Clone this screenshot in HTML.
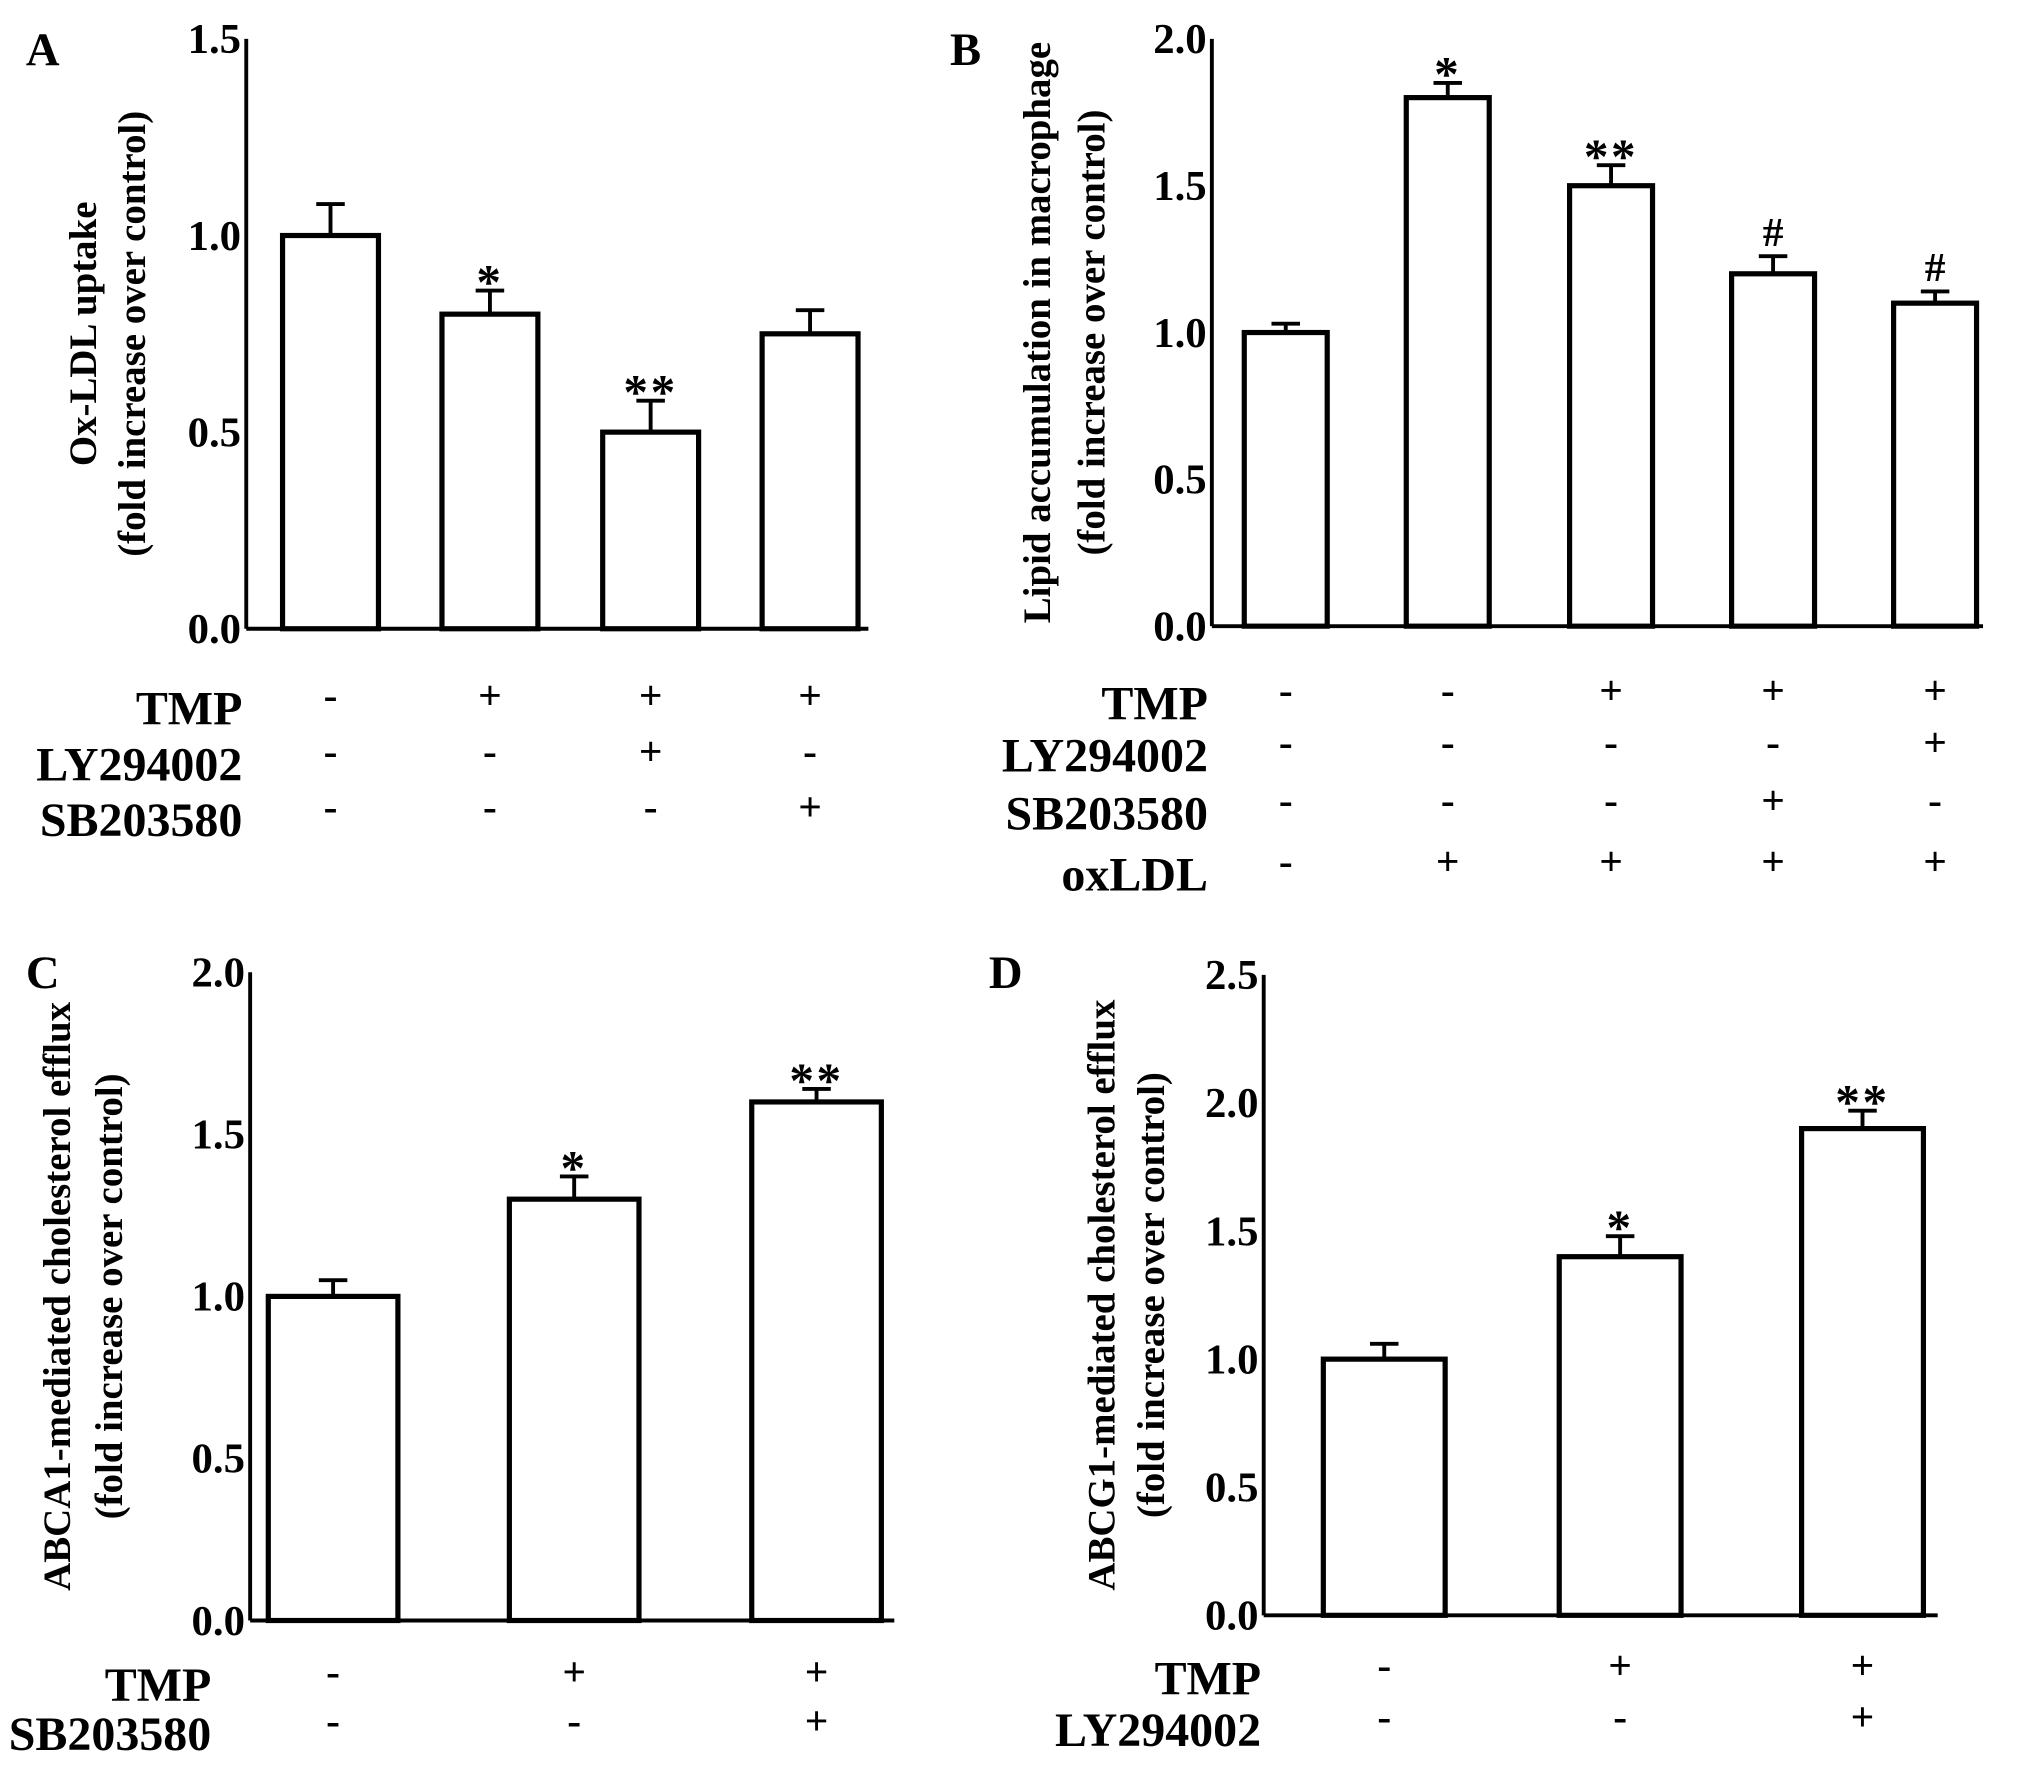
<!DOCTYPE html>
<html><head><meta charset="utf-8"><style>
html,body{margin:0;padding:0;background:#fff}
svg{display:block}
text{font-family:"Liberation Serif",serif;font-weight:bold;fill:#000}
</style></head><body>
<svg id="c" width="2031" height="1767" viewBox="0 0 1567 1363" preserveAspectRatio="none"></svg>
<script>
const aVals=[1.0,0.8,0.5,0.75], aErr=[0.08,0.06,0.08,0.06], aMarks=["","*","**",""];
const bVals=[1.0,1.8,1.5,1.2,1.1], bErr=[0.03,0.05,0.07,0.06,0.04], bMarks=["","*","**","#","#"];
const cVals=[1.0,1.3,1.6], cErr=[0.05,0.07,0.04], cMarks=["","*","**"];
const dVals=[1.0,1.4,1.9], dErr=[0.06,0.08,0.07], dMarks=["","*","**"];
const aTicks=["0.0","0.5","1.0","1.5"], bTicks=["0.0","0.5","1.0","1.5","2.0"], cTicks=["0.0","0.5","1.0","1.5","2.0"], dTicks=["0.0","0.5","1.0","1.5","2.0","2.5"];
const aRows=[["TMP","-","+","+","+"],["LY294002","-","-","+","-"],["SB203580","-","-","-","+"]];
const bRows=[["TMP","-","-","+","+","+"],["LY294002","-","-","-","-","+"],["SB203580","-","-","-","+","-"],["oxLDL","-","+","+","+","+"]];
const cRows=[["TMP","-","+","+"],["SB203580","-","-","+"]];
const dRows=[["TMP","-","+","+"],["LY294002","-","-","+"]];
const NS="http://www.w3.org/2000/svg", svg=document.getElementById('c');
function el(t,a,txt){const e=document.createElementNS(NS,t);for(const k in a)e.setAttribute(k,a[k]);if(txt!==undefined)e.textContent=txt;svg.appendChild(e);return e;}
function panel(p){
  const y=v=>p.y0-(v/p.max)*(p.y0-p.yTop);
  let e=el('text',{x:p.lx,y:p.ly,'font-size':36},p.letter);
  
  
  e=el('line',{x1:p.ax,y1:p.yTop,x2:p.ax,y2:p.y0,stroke:'#000','stroke-width':3});
  
  
  e=el('line',{x1:p.ax,y1:p.y0,x2:p.xEnd,y2:p.y0,stroke:'#000','stroke-width':3});
  
  
  p.ticks.forEach(t=>{
    e=el('text',{x:p.ax-4,y:y(parseFloat(t))+11,'font-size':33,'text-anchor':'end'},t);
    
    
  });
  const cy=(p.yTop+p.y0)/2;
  e=el('text',{x:p.t1,y:cy,'font-size':p.tf||30,'text-anchor':'middle',transform:`rotate(-90 ${p.t1} ${cy})`},p.title1);
  
  
  e=el('text',{x:p.t2,y:cy,'font-size':p.tf||30,'text-anchor':'middle',transform:`rotate(-90 ${p.t2} ${cy})`},'(fold increase over control)');
  
  
  p.vals.forEach((v,i)=>{
    const cx=p.cx[i], top=y(v), et=y(v+p.err[i]);
    e=el('line',{x1:cx,y1:top,x2:cx,y2:et,stroke:'#000','stroke-width':3});
    
    
    e=el('line',{x1:cx-11,y1:et,x2:cx+11,y2:et,stroke:'#000','stroke-width':3});
    
    
    e=el('rect',{x:cx-p.bw/2,y:top,width:p.bw,height:p.y0-top,fill:'#fff',stroke:'#000','stroke-width':4});
    
    
    if(p.marks[i]){
      const isHash=p.marks[i]==='#';
      e=el('text',{x:cx,y:et-(isHash?8:-6),'font-size':isHash?32:38,'text-anchor':'middle','font-weight':'normal','letter-spacing':isHash?0:2},p.marks[i]);
      
      
    }
  });
  p.rows.forEach((r,j)=>{
    e=el('text',{x:p.rx,y:p.rowY[j]+12,'font-size':37,'text-anchor':'end'},r[0]);
    
    
    r.slice(1).forEach((s,i)=>{
      e=el('text',{x:p.cx[i],y:p.rowY[j],'font-size':32,'text-anchor':'middle','font-weight':'normal'},s==='-'?'-':'+');
      
      
    });
  });
}
panel({letter:'A',lx:20,ly:50,ax:190,yTop:30,y0:485,max:1.5,xEnd:670,ticks:aTicks,vals:aVals,err:aErr,marks:aMarks,cx:[255,378,502,625],bw:74,t1:74,t2:112,title1:'Ox-LDL uptake',rows:aRows,rx:187,rowY:[547,590,633]});
panel({letter:'B',lx:733,ly:50,ax:935,yTop:30,y0:483,max:2.0,xEnd:1530,ticks:bTicks,vals:bVals,err:bErr,marks:bMarks,cx:[992,1117,1243,1368,1493],bw:64,t1:810,t2:852,title1:'Lipid accumulation in macrophage',rows:bRows,rx:932,rowY:[543,583,628,675]});
panel({letter:'C',lx:20,ly:762,ax:193,yTop:750,y0:1250,max:2.0,xEnd:690,ticks:cTicks,vals:cVals,err:cErr,marks:cMarks,cx:[257,443,630],bw:100,t1:54,t2:94,title1:'ABCA1-mediated cholesterol efflux',rows:cRows,rx:163,rowY:[1300,1338]});
panel({letter:'D',lx:763,ly:762,ax:975,yTop:752,y0:1246,max:2.5,xEnd:1495,ticks:dTicks,vals:dVals,err:dErr,marks:dMarks,cx:[1068,1250,1437],bw:94,t1:860,t2:898,title1:'ABCG1-mediated cholesterol efflux',rows:dRows,rx:973,rowY:[1295,1335]});
</script>
</body></html>
